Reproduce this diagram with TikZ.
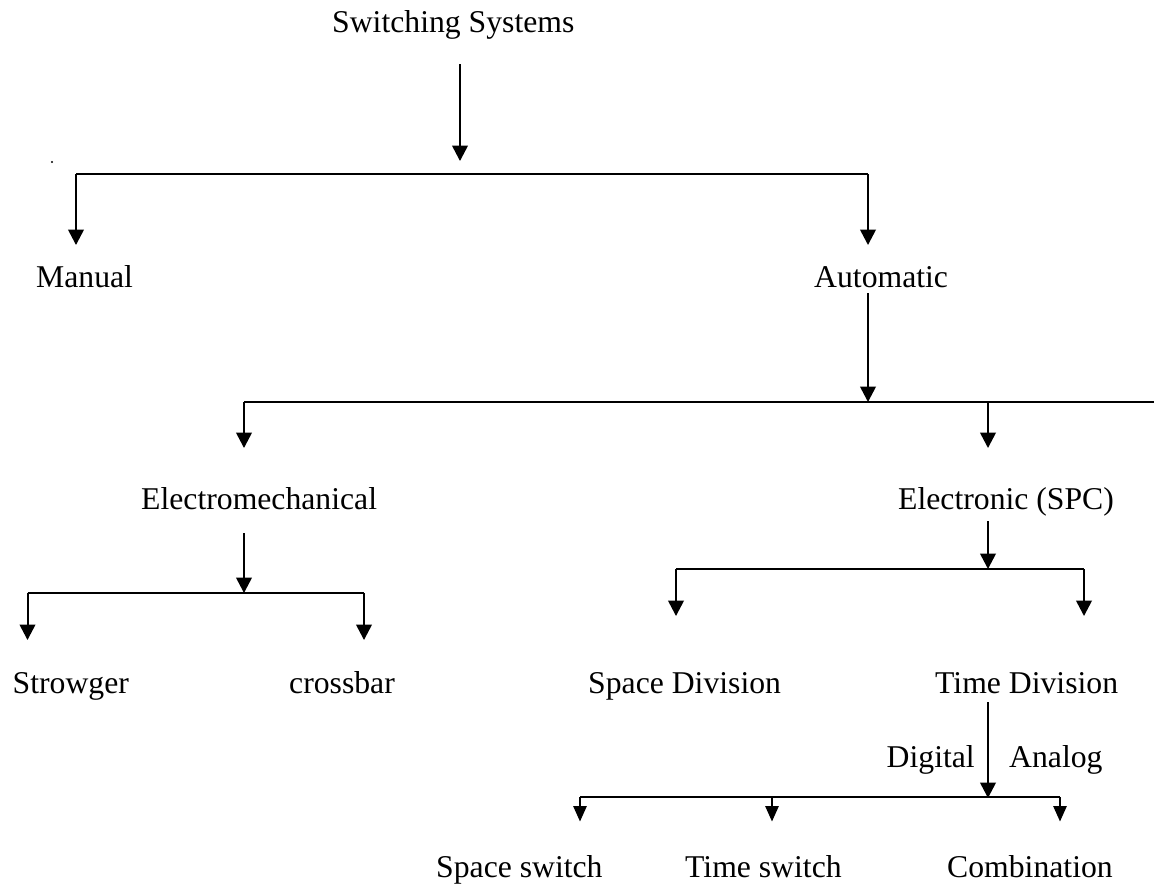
\documentclass[tikz,border=0pt]{standalone}
\usepackage{fontspec}
\setmainfont{Liberation Serif}
\usetikzlibrary{arrows.meta}
\begin{document}
\begin{tikzpicture}[x=1pt,y=-1pt,
  lbl/.style={anchor=base west,inner sep=0pt,font=\fontsize{31.7}{38}\selectfont},
  arr/.style={line width=2pt,-{Triangle[width=15.7pt,length=15.5pt]}},
  sarr/.style={line width=2pt,-{Triangle[width=13.3pt,length=15.5pt]}},
  ln/.style={line width=1.8pt}]
\useasboundingbox (0,0) rectangle (1154,884);
% texts
\node[lbl] (root) at (332,32) {Switching Systems};
\node[lbl] (manual) at (36,287) {Manual};
\node[lbl] (auto) at (814,287) {Automatic};
\node[lbl] (emech) at (141,509) {Electromechanical};
\node[lbl] (elec) at (898,509) {Electronic (SPC)};
\node[lbl] (strow) at (12.5,693) {Strowger};
\node[lbl] (cross) at (289,693) {crossbar};
\node[lbl] (spdiv) at (588,693) {Space Division};
\node[lbl] (tdiv) at (935,693) {Time Division};
\node[lbl] (dig) at (886.5,767) {Digital};
\node[lbl] (ana) at (1009,767) {Analog};
\node[lbl] (spsw) at (436,877) {Space switch};
\node[lbl] (tsw) at (685,877) {Time switch};
\node[lbl] (comb) at (947,877) {Combination};
\fill (52,162) circle (1.1);
% coordinates
\coordinate (r0) at (460,64);
\coordinate (r1) at (460,161);
\coordinate (bL) at (76,174);
\coordinate (bR) at (868,174);
\coordinate (mT) at (76,245);
\coordinate (aT) at (868,245);
\coordinate (a0) at (868,293);
\coordinate (a1) at (868,402);
\coordinate (cL) at (244,402);
\coordinate (cE) at (988,402);
\coordinate (cR) at (1155,402);
\coordinate (emT) at (244,448);
\coordinate (elT) at (988,448);
\coordinate (em0) at (244,533);
\coordinate (em1) at (244,593);
\coordinate (dL) at (27.5,593);
\coordinate (dR) at (364,593);
\coordinate (stT) at (27.5,640);
\coordinate (crT) at (364,640);
\coordinate (el0) at (988,521);
\coordinate (el1) at (988,569);
\coordinate (eL) at (676,569);
\coordinate (eR) at (1084,569);
\coordinate (sdT) at (676,616);
\coordinate (tdT) at (1084,616);
\coordinate (td0) at (988,702);
\coordinate (td1) at (988,798);
\coordinate (fL) at (580,797);
\coordinate (fM) at (772,797);
\coordinate (fR) at (1060,797);
\coordinate (ssT) at (580,821.5);
\coordinate (tsT) at (772,821.5);
\coordinate (cbT) at (1060,821.5);
% connectors
\draw[arr] (r0) -- (r1);
\draw[ln] (bL) -- (bR);
\draw[arr] (bL) -- (mT);
\draw[arr] (bR) -- (aT);
\draw[arr] (a0) -- (a1);
\draw[ln] (cL) -- (cR);
\draw[arr] (cL) -- (emT);
\draw[arr] (cE) -- (elT);
\draw[arr] (em0) -- (em1);
\draw[ln] (dL) -- (dR);
\draw[arr] (dL) -- (stT);
\draw[arr] (dR) -- (crT);
\draw[arr] (el0) -- (el1);
\draw[ln] (eL) -- (eR);
\draw[arr] (eL) -- (sdT);
\draw[arr] (eR) -- (tdT);
\draw[arr] (td0) -- (td1);
\draw[ln] (fL) -- (fR);
\draw[sarr] (fL) -- (ssT);
\draw[sarr] (fM) -- (tsT);
\draw[sarr] (fR) -- (cbT);
\end{tikzpicture}
\end{document}
